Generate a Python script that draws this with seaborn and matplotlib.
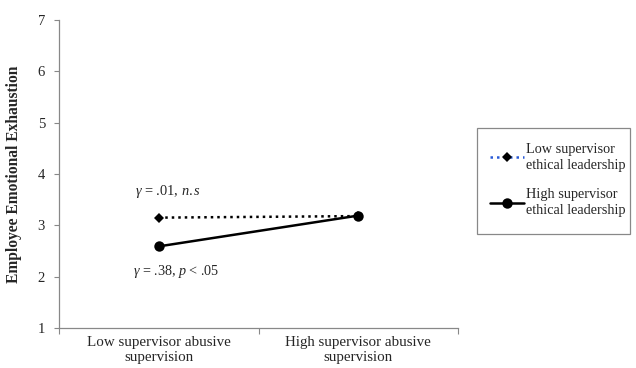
import matplotlib
matplotlib.use("Agg")
import matplotlib.pyplot as plt
from matplotlib.lines import Line2D
from matplotlib.patches import Rectangle
import seaborn as sns
import pandas as pd

# Simple-slopes data
conditions = ["Low supervisor abusive\nsupervision", "High supervisor abusive\nsupervision"]
low_el = [3.15, 3.18]
high_el = [2.59, 3.19]
series_names = ["Low supervisor\nethical leadership", "High supervisor\nethical leadership"]
y_ticks = [1, 2, 3, 4, 5, 6, 7]

df = pd.DataFrame({
    "x": [0, 1, 0, 1],
    "y": low_el + high_el,
    "group": [series_names[0]] * 2 + [series_names[1]] * 2,
})

sns.set_style("white")
plt.rcParams["font.family"] = ["Liberation Serif", "DejaVu Serif"]
plt.rcParams["mathtext.fontset"] = "custom"
plt.rcParams["mathtext.rm"] = "Liberation Serif"
plt.rcParams["mathtext.it"] = "Liberation Serif:italic"

W, H = 636, 368
fig = plt.figure(figsize=(W / 100, H / 100), dpi=100)
ax = fig.add_axes([59 / W, 1 - 328 / H, (458 - 59) / W, (328 - 20) / H])

d_low = df[df.group == series_names[0]]
d_high = df[df.group == series_names[1]]
sns.lineplot(data=d_low, x="x", y="y", ax=ax, color="black", linestyle=(0, (1, 1.6)),
             linewidth=1.8, marker="D", markersize=5, markeredgewidth=0, legend=False)
sns.lineplot(data=d_high, x="x", y="y", ax=ax, color="black", linestyle="-",
             linewidth=1.8, marker="o", markersize=7.5, markeredgewidth=0, legend=False)

ax.set_xlim(-0.5, 1.5)
ax.set_ylim(1, 7)
ax.set_yticks(y_ticks)
ax.set_yticklabels([str(t) for t in y_ticks], fontsize=10.5)
ax.set_xticks([-0.5, 0.5, 1.5])
ax.set_xticklabels([])
ax.set_xticks([0, 1], minor=True)
ax.set_xticklabels(conditions, minor=True, fontsize=10.8, linespacing=1.15)
ax.tick_params(axis="x", which="minor", bottom=False, length=0, pad=6)
ax.tick_params(axis="x", which="major", bottom=True, length=4, width=0.8,
               color="#888888", direction="out")
ax.tick_params(axis="y", left=True, length=3.6, width=0.8, color="#888888",
               direction="out", pad=6.5)
ax.set_xlabel("")
ax.set_ylabel("Employee Emotional Exhaustion", fontsize=11.2, fontweight="bold")
ax.yaxis.set_label_coords(-0.092, 0.5)

for side in ["top", "right"]:
    ax.spines[side].set_visible(False)
for side in ["left", "bottom"]:
    ax.spines[side].set_color("#888888")
    ax.spines[side].set_linewidth(0.9)

ax.text(-0.12, 3.65, r"$\mathit{\gamma}$ = .01, $\mathit{n.s}$", fontsize=10.4, va="center", ha="left")
ax.text(-0.13, 2.11, r"$\mathit{\gamma}$ = .38, $\mathit{p}$ < .05", fontsize=10.2, va="center", ha="left")

# Legend box
fig.patches.append(Rectangle((477 / W, 1 - 234 / H), (630 - 477) / W, (234 - 128) / H,
                             transform=fig.transFigure, fill=False,
                             edgecolor="#888888", linewidth=0.9))
handles = [
    Line2D([0], [0], color="#2a5bd7", linestyle=(0, (1, 1.6)), linewidth=1.8,
           marker="D", markersize=5, markerfacecolor="black", markeredgewidth=0),
    Line2D([0], [0], color="black", linestyle="-", linewidth=1.8,
           marker="o", markersize=7.5, markerfacecolor="black", markeredgewidth=0),
]
leg = fig.legend(handles, series_names, loc="upper left",
                 bbox_to_anchor=(490 / W, 1 - 143 / H), fontsize=10.3,
                 frameon=False, handlelength=2.4, handletextpad=0.15,
                 labelspacing=1.15, borderpad=0, borderaxespad=0)
for t in leg.get_texts():
    t.set_linespacing(1.3)

fig.savefig("out.png", dpi=100)
